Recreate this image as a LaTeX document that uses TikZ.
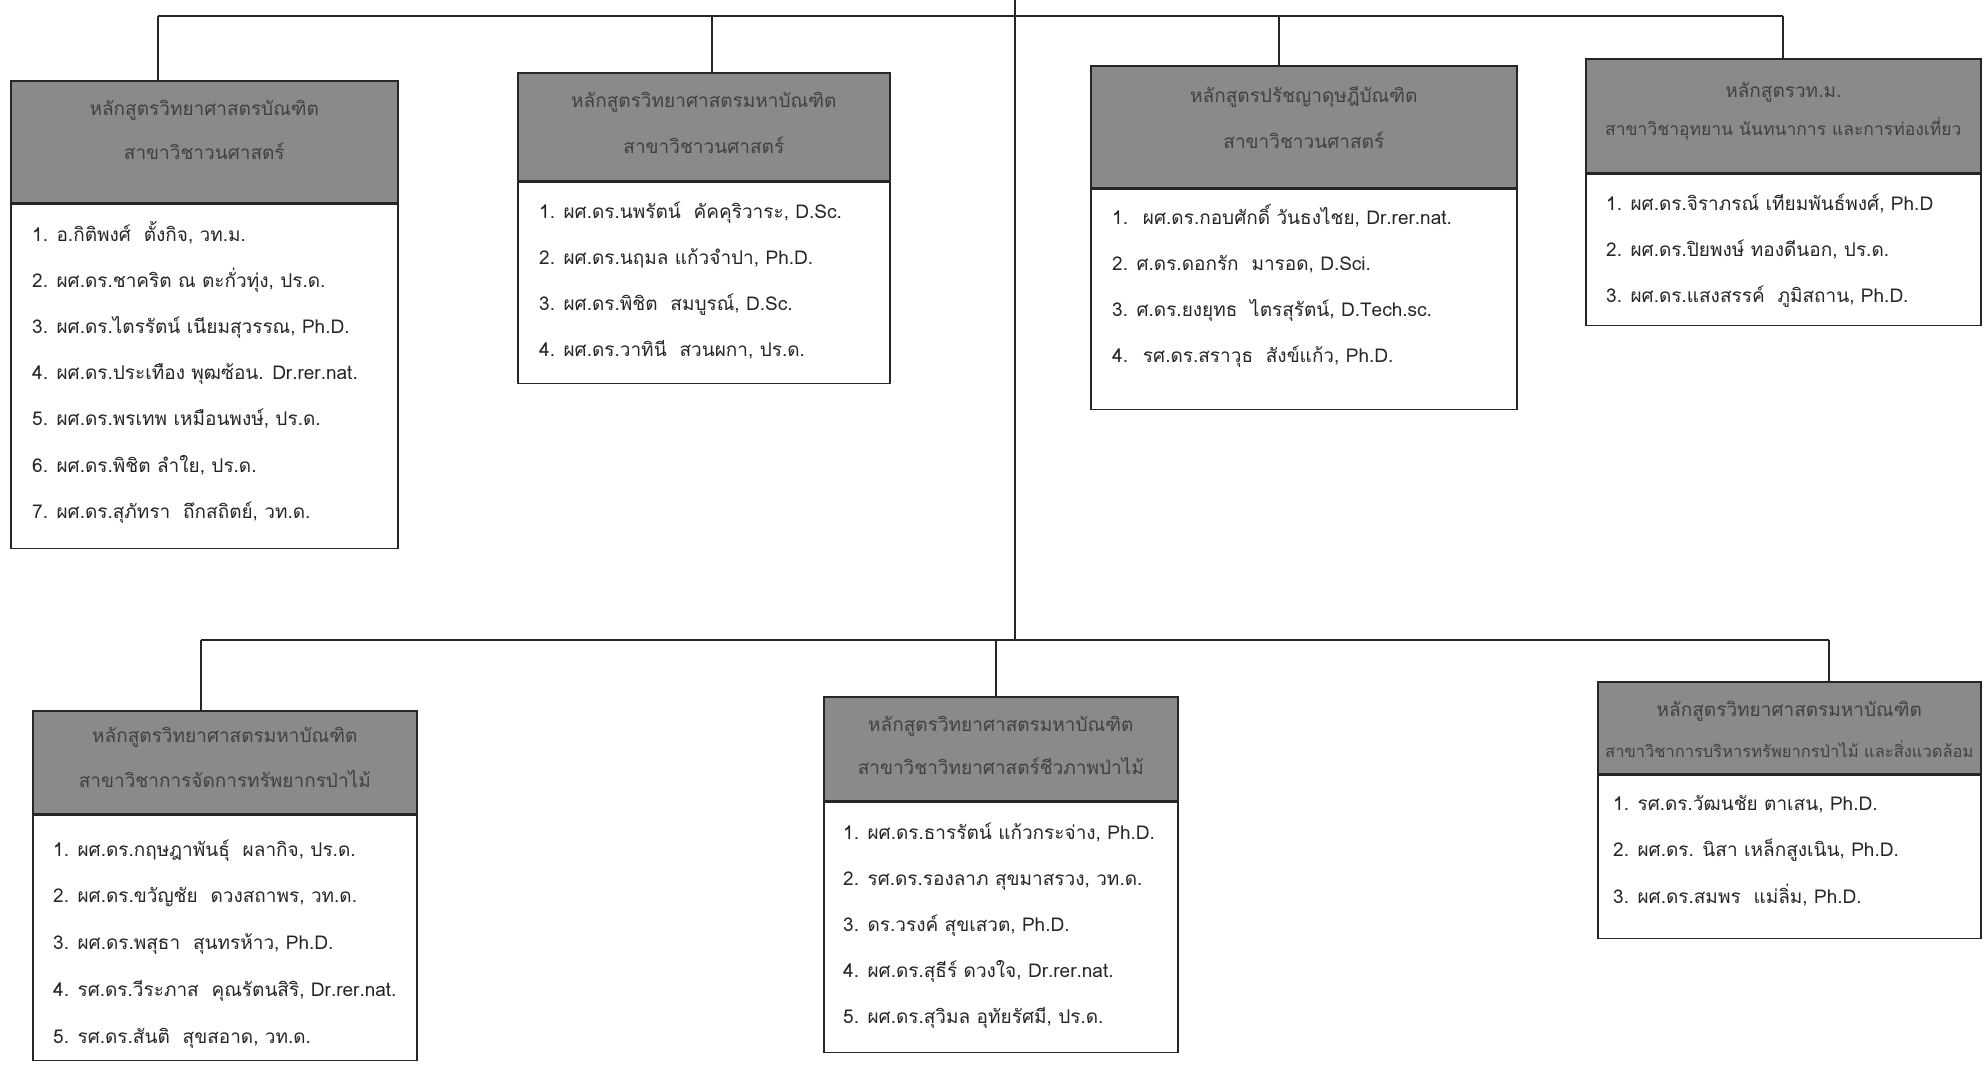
\documentclass[tikz,border=0pt]{standalone}
\usepackage{fontspec}
\setmainfont[Script=Thai]{Loma}
\begin{document}
\begin{tikzpicture}[x=1pt,y=-1pt,
  conn/.style={draw=black!85,line width=1.6pt},
  hdr/.style={draw=black!85,line width=1.6pt,fill=black!46,anchor=north west,inner sep=0pt},
  hdrtxt/.style={anchor=base,inner sep=0pt,text=black!75,font=\fontsize{19}{19}\selectfont},
  bodybox/.style={draw=black!85,line width=1.6pt,fill=white,anchor=north west,inner sep=0pt},
  itm/.style={anchor=base west,inner sep=0pt,text=black!85,font=\fontsize{19}{23}\selectfont}]
\useasboundingbox (0,0) rectangle (1985,1065);

% ---- connector junctions
\coordinate (root) at (1015,0);
\coordinate (mid) at (1015,640);
\coordinate (jA) at (158,16);
\coordinate (jB) at (712,16);
\coordinate (jC) at (1279,16);
\coordinate (jD) at (1783,16);
\coordinate (jE) at (201,640);
\coordinate (jF) at (996,640);
\coordinate (jG) at (1829,640);

% ---- boxes
\node[hdr,minimum width=387,minimum height=122] (hA) at (10,80) {};
\node[bodybox,minimum width=387,minimum height=344] (bA) at (hA.south west) {};
\node[hdr,minimum width=372,minimum height=108] (hB) at (517,72) {};
\node[bodybox,minimum width=372,minimum height=201] (bB) at (hB.south west) {};
\node[hdr,minimum width=426,minimum height=122] (hC) at (1090,65) {};
\node[bodybox,minimum width=426,minimum height=220] (bC) at (hC.south west) {};
\node[hdr,minimum width=395,minimum height=114] (hD) at (1585,58) {};
\node[bodybox,minimum width=395,minimum height=151] (bD) at (hD.south west) {};
\node[hdr,minimum width=384,minimum height=103] (hE) at (32,710) {};
\node[bodybox,minimum width=384,minimum height=245] (bE) at (hE.south west) {};
\node[hdr,minimum width=354,minimum height=104] (hF) at (823,696) {};
\node[bodybox,minimum width=354,minimum height=250] (bF) at (hF.south west) {};
\node[hdr,minimum width=383,minimum height=92] (hG) at (1597,681) {};
\node[bodybox,minimum width=383,minimum height=163] (bG) at (hG.south west) {};

% ---- header texts
\node[hdrtxt] (tA1) at (hA.center |- 0,115) {หลักสูตรวิทยาศาสตรบัณฑิต};
\node[hdrtxt] (tA2) at (hA.center |- 0,159) {สาขาวิชาวนศาสตร์};
\node[hdrtxt] (tB1) at (hB.center |- 0,107) {หลักสูตรวิทยาศาสตรมหาบัณฑิต};
\node[hdrtxt] (tB2) at (hB.center |- 0,153) {สาขาวิชาวนศาสตร์};
\node[hdrtxt] (tC1) at (hC.center |- 0,102) {หลักสูตรปรัชญาดุษฎีบัณฑิต};
\node[hdrtxt] (tC2) at (hC.center |- 0,148) {สาขาวิชาวนศาสตร์};
\node[hdrtxt] (tD1) at (hD.center |- 0,97) {หลักสูตรวท.ม.};
\node[hdrtxt,font=\fontsize{17.5}{17.5}\selectfont] (tD2) at (hD.center |- 0,135) {สาขาวิชาอุทยาน นันทนาการ และการท่องเที่ยว};
\node[hdrtxt] (tE1) at (hE.center |- 0,742) {หลักสูตรวิทยาศาสตรมหาบัณฑิต};
\node[hdrtxt] (tE2) at (hE.center |- 0,787) {สาขาวิชาการจัดการทรัพยากรป่าไม้};
\node[hdrtxt] (tF1) at (hF.center |- 0,731) {หลักสูตรวิทยาศาสตรมหาบัณฑิต};
\node[hdrtxt] (tF2) at (hF.center |- 0,774) {สาขาวิชาวิทยาศาสตร์ชีวภาพป่าไม้};
\node[hdrtxt] (tG1) at (hG.center |- 0,716) {หลักสูตรวิทยาศาสตรมหาบัณฑิต};
\node[hdrtxt,font=\fontsize{16.5}{16.5}\selectfont] (tG2) at (hG.center |- 0,757) {สาขาวิชาการบริหารทรัพยากรป่าไม้ และสิ่งแวดล้อม};

% ---- connectors
\draw[conn] (root) -- (mid);
\draw[conn] (jA) -- (jD);
\draw[conn] (jE) -- (jG);
\foreach \j/\h in {jA/hA,jB/hB,jC/hC,jD/hD,jE/hE,jF/hF,jG/hG}
  \draw[conn] (\j) -- (\j |- \h.north);

% ---- items
\foreach \t [count=\i] in {
  {1. อ.กิติพงศ์~ ตั้งกิจ, วท.ม.},
  {2. ผศ.ดร.ชาคริต ณ ตะกั่วทุ่ง, ปร.ด.},
  {3. ผศ.ดร.ไตรรัตน์ เนียมสุวรรณ, Ph.D.},
  {4. ผศ.ดร.ประเทือง พุฒซ้อน. Dr.rer.nat.},
  {5. ผศ.ดร.พรเทพ เหมือนพงษ์, ปร.ด.},
  {6. ผศ.ดร.พิชิต ลำใย, ปร.ด.},
  {7. ผศ.ดร.สุภัทรา~ ถึกสถิตย์, วท.ด.}}
  \node[itm] (a\i) at ({32},{241+46.2*(\i-1)}) {\t};

\foreach \t [count=\i] in {
  {1. ผศ.ดร.นพรัตน์~ คัคคุริวาระ, D.Sc.},
  {2. ผศ.ดร.นฤมล แก้วจำปา, Ph.D.},
  {3. ผศ.ดร.พิชิต~ สมบูรณ์, D.Sc.},
  {4. ผศ.ดร.วาทินี~ สวนผกา, ปร.ด.}}
  \node[itm] (b\i) at ({539},{218+46*(\i-1)}) {\t};

\foreach \t [count=\i] in {
  {1.~ ผศ.ดร.กอบศักดิ์ วันธงไชย, Dr.rer.nat.},
  {2. ศ.ดร.ดอกรัก~ มารอด, D.Sci.},
  {3. ศ.ดร.ยงยุทธ~ ไตรสุรัตน์, D.Tech.sc.},
  {4.~ รศ.ดร.สราวุธ~ สังข์แก้ว, Ph.D.}}
  \node[itm] (c\i) at ({1112},{224+46*(\i-1)}) {\t};

\foreach \t [count=\i] in {
  {1. ผศ.ดร.จิราภรณ์ เทียมพันธ์พงศ์, Ph.D},
  {2. ผศ.ดร.ปิยพงษ์ ทองดีนอก, ปร.ด.},
  {3. ผศ.ดร.แสงสรรค์~ ภูมิสถาน, Ph.D.}}
  \node[itm] (d\i) at ({1606},{210+46*(\i-1)}) {\t};

\foreach \t [count=\i] in {
  {1. ผศ.ดร.กฤษฎาพันธุ์~ ผลากิจ, ปร.ด.},
  {2. ผศ.ดร.ขวัญชัย~ ดวงสถาพร, วท.ด.},
  {3. ผศ.ดร.พสุธา~ สุนทรห้าว, Ph.D.},
  {4. รศ.ดร.วีระภาส~ คุณรัตนสิริ, Dr.rer.nat.},
  {5. รศ.ดร.สันติ~ สุขสอาด, วท.ด.}}
  \node[itm] (e\i) at ({53},{856+46.8*(\i-1)}) {\t};

\foreach \t [count=\i] in {
  {1. ผศ.ดร.ธารรัตน์ แก้วกระจ่าง, Ph.D.},
  {2. รศ.ดร.รองลาภ สุขมาสรวง, วท.ด.},
  {3. ดร.วรงค์ สุขเสวต, Ph.D.},
  {4. ผศ.ดร.สุธีร์ ดวงใจ, Dr.rer.nat.},
  {5. ผศ.ดร.สุวิมล อุทัยรัศมี, ปร.ด.}}
  \node[itm] (f\i) at ({843},{839+46*(\i-1)}) {\t};

\foreach \t [count=\i] in {
  {1. รศ.ดร.วัฒนชัย ตาเสน, Ph.D.},
  {2. ผศ.ดร. นิสา เหล็กสูงเนิน, Ph.D.},
  {3. ผศ.ดร.สมพร~ แม่ลิ่ม, Ph.D.}}
  \node[itm] (g\i) at ({1613},{810+46.5*(\i-1)}) {\t};
\end{tikzpicture}
\end{document}
